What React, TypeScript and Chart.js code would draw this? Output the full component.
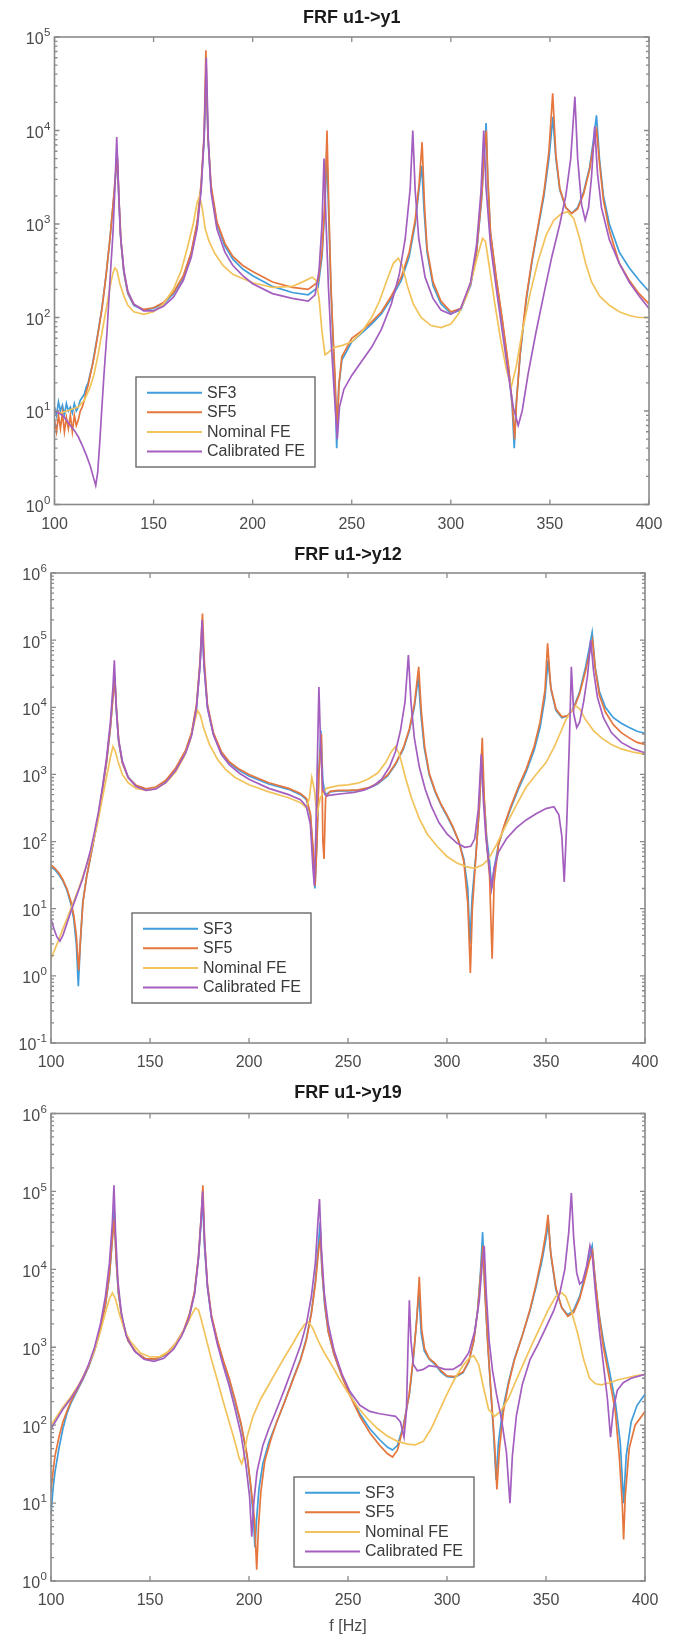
import React, { useEffect, useRef } from "react";
import { Chart, registerables } from "chart.js";
Chart.register(...registerables);

type Pt = [number, number];

const seriesNames = ["SF3", "SF5", "Nominal FE", "Calibrated FE"];
const seriesColors = ["#3f9ddb", "#e5763d", "#f2c35b", "#a35ec0"];
const xTickValues = [100, 150, 200, 250, 300, 350, 400];
const titles = ["FRF u1->y1", "FRF u1->y12", "FRF u1->y19"];
const yRanges: [number, number][] = [[1, 1e5], [0.1, 1e6], [1, 1e6]];
const xAxisTitle = "f [Hz]";

// ---------- Panel 1: FRF u1->y1 ----------
const p1SF3: Pt[] = [[100,11],[101,9],[102,12.5],[103,10],[104,11.5],[105,9],[106,12],[107,10],[108,11],[109,9.5],[110,12],[111,10],[112,11],[113,13],[114,14],[115,15],[116,18],[117,20],[118,25],[119,30],[120,40],[122,70],[124,130],[126,280],[128,700],[130,2000],[131,3600],[131.8,4500],[132.5,1800],[133.5,650],[135,300],[137,180],[140,135],[145,120],[150,125],[155,140],[160,180],[165,270],[169,480],[172,1000],[174,2500],[175.5,8000],[176.5,40000],[177.5,8000],[179,2400],[182,1000],[186,580],[190,420],[195,330],[200,280],[210,215],[220,185],[228,175],[233,210],[235,450],[236.5,1600],[237.4,6000],[238.4,1200],[239.5,200],[240.5,60],[241.5,20],[242.4,4],[243.4,18],[245,35],[250,55],[255,68],[260,85],[265,110],[270,160],[275,250],[279,450],[282,1000],[284,2400],[285.3,4200],[286.5,1400],[288,500],[291,220],[295,140],[300,110],[305,120],[310,220],[313,500],[315.5,1800],[317,6000],[317.8,12000],[318.6,3000],[320,800],[323,250],[326,90],[329,30],[331,11],[332,4],[333,12],[335,40],[338,150],[341,400],[344,900],[347,2000],[349.5,5000],[351.5,14000],[353,5000],[355,2300],[358,1500],[361,1300],[364,1500],[367,2200],[370,4000],[372,8000],[373.5,14500],[375,5000],[377,2000],[380,1000],[385,500],[390,340],[395,250],[400,190]];
const p1SF5: Pt[] = [[100,8],[101,6],[102,9],[103,6.5],[104,9.5],[105,6],[106,8.5],[107,6.5],[108,9],[109,6],[110,9],[111,7],[112,8],[113,10],[114,11],[115,13],[116,16],[117,19],[118,24],[119,30],[120,38],[122,68],[124,125],[126,280],[128,700],[130,2100],[131,3800],[131.8,5000],[132.5,1900],[133.5,680],[135,310],[137,185],[140,138],[145,122],[150,127],[155,145],[160,185],[165,280],[169,500],[172,1050],[174,2700],[175.5,9000],[176.4,72000],[177.4,9000],[179,2600],[182,1050],[186,620],[190,450],[195,360],[200,310],[210,240],[220,210],[228,200],[233,240],[235,500],[236.5,1800],[237.5,10000],[238.5,1300],[239.5,220],[240.5,70],[241.5,25],[242.6,6],[243.6,20],[245,38],[250,60],[255,72],[260,90],[265,115],[270,170],[275,270],[279,500],[282,1100],[284,2700],[285.5,7500],[286.7,1600],[288,550],[291,240],[295,150],[300,115],[305,125],[310,230],[313,520],[315.5,1900],[317,6500],[317.9,10000],[318.7,3000],[320,820],[323,260],[326,95],[329,32],[331,12],[332.2,5],[333.2,13],[335,42],[338,160],[341,420],[344,950],[347,2200],[349.5,6000],[351.4,25000],[353,5500],[355,2400],[358,1500],[361,1300],[364,1450],[367,2100],[370,3800],[372,7000],[373.6,10000],[375,4500],[377,1800],[380,850],[385,380],[390,250],[395,180],[400,140]];
const p1Nom: Pt[] = [[100,10],[103,9.5],[106,10],[109,10.5],[112,11],[115,13],[118,18],[120,25],[122,40],[124,70],[126,120],[128,210],[129.5,300],[130.5,340],[131.5,320],[133,230],[135,170],[137,135],[140,115],[145,108],[150,115],[155,140],[160,200],[164,320],[167,550],[170,1000],[172,1700],[173.2,2000],[174.5,1500],[176,900],[178,650],[181,480],[185,360],[190,290],[200,235],[210,210],[220,215],[226,245],[230,270],[232,250],[233.5,160],[235,70],[236.5,40],[238,42],[241,48],[245,50],[250,55],[255,70],[260,100],[264,150],[268,260],[271,380],[273.5,430],[275.5,360],[278,220],[281,140],[285,100],[290,82],[295,78],[300,85],[304,110],[308,170],[311,280],[314,500],[316,700],[317.5,650],[319,400],[322,150],[325,60],[328,28],[330.5,18],[333,30],[336,70],[340,180],[344,400],[348,750],[352,1100],[356,1300],[359,1350],[362,1150],[365,700],[368,380],[371,240],[375,170],[380,135],[385,115],[390,105],[395,100],[400,100]];
const p1Cal: Pt[] = [[100,10],[102,9.5],[104,9],[106,8],[108,7],[110,6.2],[112,5.3],[114,4.3],[116,3.4],[118,2.6],[119.5,2],[120.8,1.6],[121.8,2.2],[122.8,4.5],[123.8,10],[125,25],[126.5,70],[128,250],[129.5,800],[130.5,2500],[131.4,8500],[132.2,2800],[133.2,800],[135,320],[137,190],[140,140],[145,118],[150,118],[155,132],[160,165],[165,250],[169,440],[172,900],[174,2300],[175.5,8500],[176.6,60000],[177.6,8000],[179,2200],[182,880],[186,500],[190,360],[195,280],[200,230],[210,180],[220,160],[228,150],[231.5,175],[233.5,320],[235,1000],[236,5000],[237,1100],[238.2,220],[239.5,60],[241,18],[242.7,5],[243.8,11],[246,17],[250,24],[255,34],[260,48],[265,75],[270,140],[274,290],[277,700],[279.5,2400],[280.8,10000],[282,2300],[283.8,700],[287,270],[291,160],[295,120],[300,108],[305,125],[310,240],[313,600],[315.2,2200],[316.6,10000],[317.8,2400],[320,600],[323,200],[326,70],[329,25],[331.5,11],[334,7],[336,10],[339,25],[343,70],[347,180],[351,450],[355,1000],[358,2000],[360.5,5000],[362.6,23000],[364,5000],[366,1600],[367.8,1100],[369.5,1500],[371,3200],[372.6,11000],[374,3500],[376,1500],[380,680],[385,380],[390,240],[395,170],[400,125]];

// ---------- Panel 2: FRF u1->y12 ----------
const p2SF3: Pt[] = [[100,42],[102,38],[104,32],[106,26],[108,19],[110,12],[111.5,7],[112.8,3],[113.8,0.7],[114.8,3],[116,12],[118,30],[120,60],[122,120],[124,250],[126,600],[128,1500],[130,5000],[131.3,15000],[132.2,30000],[133,9000],[134.2,3000],[136,1500],[139,900],[143,680],[148,600],[153,640],[158,800],[163,1200],[168,2200],[171,4000],[173.5,10000],[175.2,40000],[176.4,150000],[177.4,40000],[179,10000],[182,4000],[186,2100],[190,1500],[195,1150],[200,950],[210,720],[220,600],[226,500],[229,420],[231,250],[232.5,60],[233.3,20],[234.3,100],[235.2,1000],[236.3,4500],[237.3,800],[238.5,500],[241,550],[245,570],[250,570],[255,580],[260,620],[265,720],[270,950],[274,1400],[278,2400],[281,4500],[283.5,10000],[285.5,28000],[286.8,8000],[288.5,2500],[291,1000],[294,550],[297,350],[300,240],[303,160],[306,100],[308.5,55],[310.5,20],[311.6,3],[312.7,15],[314.5,60],[316.3,300],[317.6,2000],[318.6,500],[320,120],[321.5,50],[322.6,20],[323.8,40],[326,90],[329,170],[332,300],[336,600],[340,1100],[344,2300],[347,5000],[349.5,14000],[351,50000],[352.6,18000],[355,9000],[358,7000],[361,7500],[364,10000],[367,17000],[370,40000],[372,80000],[373.3,130000],[374.8,40000],[377,17000],[380,10000],[384,7000],[388,5800],[392,5000],[396,4400],[400,4100]];
const p2SF5: Pt[] = [[100,45],[102,40],[104,34],[106,27],[108,20],[110,13],[111.5,8],[112.8,4],[114,1.2],[115,4],[116.2,13],[118,30],[120,60],[122,120],[124,250],[126,600],[128,1500],[130,5000],[131.3,14000],[132.3,25000],[133.1,9000],[134.3,3000],[136,1500],[139,900],[143,690],[148,610],[153,650],[158,820],[163,1250],[168,2300],[171,4200],[173.5,11000],[175.3,50000],[176.5,250000],[177.5,45000],[179,11000],[182,4200],[186,2200],[190,1550],[195,1200],[200,1000],[210,750],[220,620],[226,520],[229,440],[231,260],[232.5,70],[233.4,22],[234.4,110],[235.3,1000],[236.6,4000],[237.3,100],[237.9,55],[238.7,450],[241,560],[245,580],[250,580],[255,590],[260,630],[265,740],[270,980],[274,1450],[278,2500],[281,4800],[283.5,11000],[285.7,40000],[287,9000],[288.7,2600],[291,1050],[294,570],[297,360],[300,250],[303,165],[306,100],[308.5,50],[310.5,12],[311.8,1.1],[312.8,10],[314.5,55],[316.3,320],[317.8,3500],[318.8,450],[320,100],[321.5,30],[322.8,1.8],[323.8,25],[326,90],[329,180],[332,320],[336,650],[340,1200],[344,2600],[347,6000],[349.5,18000],[350.8,90000],[352.4,20000],[355,9500],[358,7200],[361,7500],[364,9500],[367,16000],[370,35000],[372,65000],[373.5,100000],[375,35000],[377,15000],[380,8500],[384,5500],[388,4200],[392,3500],[396,3000],[400,2800]];
const p2Nom: Pt[] = [[100,1.8],[102,2.5],[104,3.5],[106,5],[108,7],[110,10],[112,14],[114,20],[116,30],[118,45],[120,70],[122,120],[124,220],[126,450],[128,900],[130,1800],[131.3,2600],[132.5,2200],[134,1500],[136,1000],[139,750],[143,620],[148,580],[153,620],[158,750],[163,1100],[167,1800],[170,3000],[172.5,6000],[174,9000],[175.5,7500],[177,5000],[180,2800],[184,1700],[188,1200],[193,900],[200,700],[210,550],[220,450],[226,380],[229,320],[230.5,450],[231.7,900],[233,600],[234.3,250],[236,450],[239,620],[245,680],[250,700],[255,740],[260,850],[265,1050],[269,1500],[272,2200],[274,2600],[276,2000],[279,900],[282,450],[286,220],[290,130],[295,85],[300,60],[305,48],[310,42],[314,40],[318,45],[321,55],[325,90],[330,180],[335,350],[340,650],[345,1000],[350,1500],[354,2500],[357,4000],[360,6500],[363,9000],[365,10500],[367,9500],[370,6500],[374,4500],[378,3500],[383,2800],[388,2400],[394,2150],[400,2000]];
const p2Cal: Pt[] = [[100,7],[101.5,5],[103,3.8],[104.5,3.3],[106,4],[108,6],[110,9],[112,13],[114,19],[116,28],[118,45],[120,75],[122,140],[124,280],[126,650],[128,1700],[130,6000],[131.3,20000],[132,50000],[132.8,12000],[134,3500],[136,1600],[139,900],[143,660],[148,580],[153,610],[158,760],[163,1150],[168,2100],[171,3800],[173.5,10000],[175.2,40000],[176.3,200000],[177.3,40000],[179,10000],[182,3900],[186,2000],[190,1400],[195,1050],[200,850],[210,620],[220,500],[226,420],[229,330],[231,180],[232.3,40],[233,22],[233.8,150],[234.6,2000],[235.3,20000],[236.2,2500],[237.3,600],[239,480],[243,500],[248,520],[253,540],[258,580],[263,680],[267,850],[271,1300],[274,2200],[276.5,4500],[278.8,12000],[280.5,60000],[281.8,12000],[283.5,3500],[286,1300],[289,600],[292,340],[296,190],[300,130],[305,95],[309,82],[312,85],[314,110],[315.8,300],[317.3,2000],[318.4,400],[319.6,120],[321,50],[322.5,20],[323.8,40],[326,70],[330,110],[335,160],[340,210],[345,260],[350,310],[354,330],[356.5,250],[358,120],[359.2,25],[360.5,200],[361.8,3000],[362.8,40000],[364,8000],[365.5,5000],[367,6000],[369,12000],[371,30000],[372.6,100000],[374,35000],[376,14000],[379,7000],[383,4200],[388,3000],[394,2400],[400,2100]];

// ---------- Panel 3: FRF u1->y19 ----------
const p3SF3: Pt[] = [[100,7],[101,15],[102,25],[104,50],[106,90],[108,140],[110,190],[113,270],[116,380],[119,560],[122,900],[125,1700],[127.5,3500],[129.5,8000],[131,25000],[131.9,60000],[132.8,15000],[134,5000],[136,2200],[139,1200],[143,850],[148,700],[153,700],[158,800],[163,1100],[167,1600],[170,2600],[172.5,5000],[174.5,14000],[175.8,40000],[176.6,80000],[177.5,20000],[179,6000],[181,2500],[184,1200],[187,650],[190,380],[193,200],[196,100],[199,40],[201,15],[202.3,6],[203,2.7],[203.8,6],[205,15],[207,32],[210,60],[214,110],[218,200],[222,380],[226,700],[229,1300],[231.5,2800],[233.5,7000],[235,20000],[235.9,40000],[236.8,10000],[238.2,3500],[240,1600],[243,800],[247,420],[251,250],[256,140],[261,90],[266,65],[270,52],[272.5,48],[275,55],[278,100],[281,250],[283,700],[284.5,2000],[285.8,5000],[287,1500],[288.5,900],[291,700],[294,600],[297,480],[300,420],[304,410],[308,470],[311,650],[313.5,1200],[315.5,3000],[317,10000],[318,30000],[319,6000],[320.5,1200],[322,300],[323.5,80],[324.8,20],[326,60],[328,150],[331,350],[334,700],[338,1400],[342,3000],[345,6000],[348,13000],[350,25000],[351.2,40000],[352.5,15000],[355,5500],[358,3200],[361,2600],[364,3000],[367,4500],[370,9000],[372,15000],[373.3,20000],[374.5,9000],[376.5,3000],[379,1200],[382,500],[385,200],[387.5,60],[389.2,10],[390.5,40],[393,110],[396,180],[400,250]];
const p3SF5: Pt[] = [[100,14],[101,25],[102,40],[104,70],[106,110],[108,150],[110,200],[113,280],[116,390],[119,570],[122,920],[125,1750],[127.5,3600],[129.5,8500],[131,25000],[132,45000],[132.9,14000],[134.1,5000],[136,2200],[139,1200],[143,860],[148,710],[153,710],[158,810],[163,1120],[167,1650],[170,2700],[172.5,5200],[174.5,15000],[175.9,50000],[176.7,120000],[177.6,22000],[179,6500],[181,2600],[184,1250],[187,680],[190,400],[193,210],[196,105],[199,42],[201,16],[202.8,6],[203.9,1.4],[204.8,5],[206,14],[208,35],[211,65],[214,110],[218,200],[222,370],[226,680],[229,1250],[231.5,2700],[233.5,6500],[235.2,18000],[236.1,25000],[237,9000],[238.4,3400],[240,1600],[243,800],[247,420],[251,240],[256,130],[261,80],[266,55],[270,43],[272.5,39],[275,48],[278,95],[281,260],[283,750],[284.7,2200],[286,8000],[287.2,1700],[288.7,950],[291,720],[294,620],[297,500],[300,430],[304,420],[308,480],[311,660],[313.5,1200],[315.5,3000],[317.2,10000],[318.2,20000],[319.2,5000],[320.7,1000],[322.3,250],[324,60],[325.2,15],[326.5,50],[328.5,150],[331,330],[334,680],[338,1400],[342,3100],[345,6500],[348,15000],[350,30000],[351,50000],[352.3,17000],[355,5800],[358,3200],[361,2500],[364,2800],[367,4200],[370,8000],[372,13000],[373.5,17000],[374.8,7500],[376.8,2600],[379,1000],[382,400],[385,150],[387,40],[388.5,10],[389.2,3.4],[390,12],[392,50],[395,100],[400,150]];
const p3Nom: Pt[] = [[100,100],[103,130],[106,170],[110,230],[114,330],[118,520],[122,900],[125,1600],[127.5,2800],[129.5,4200],[131,5000],[132.5,4200],[134.5,2700],[137,1700],[140,1200],[145,850],[150,750],[155,760],[160,900],[164,1200],[168,1800],[171,2600],[173,3200],[174.5,3000],[176,2200],[178,1400],[181,700],[184,380],[187,200],[190,110],[193,60],[195,38],[196.3,32],[197.5,40],[199,70],[202,130],[206,220],[210,330],[214,500],[218,750],[222,1100],[225,1500],[228,1950],[230,2100],[232,1800],[235,1200],[238,850],[242,580],[246,380],[250,260],[255,170],[260,120],[265,90],[270,72],[275,62],[280,57],[284,56],[288,62],[292,90],[296,150],[300,250],[304,400],[308,580],[311,720],[313.5,780],[316,600],[318.5,300],[321,160],[324,130],[327,150],[331,220],[335,380],[339,650],[343,1100],[347,1800],[351,3000],[355,4500],[357.8,5000],[360,4500],[363,2800],[366,1500],[369,700],[372,400],[375,340],[378,330],[382,350],[386,380],[390,400],[395,430],[400,450]];
const p3Cal: Pt[] = [[100,90],[103,120],[106,160],[110,220],[113,290],[116,400],[119,600],[122,1000],[125,2000],[127.5,4500],[129.5,12000],[131,40000],[131.8,120000],[132.6,30000],[133.8,7000],[135.5,2800],[138,1400],[142,900],[147,700],[152,660],[157,720],[162,950],[166,1400],[169.5,2300],[172.5,4800],[174.5,14000],[175.8,45000],[176.6,100000],[177.5,25000],[179,6000],[181,2400],[184,1100],[187,580],[190,320],[193,160],[196,75],[198.5,30],[200.3,12],[201.4,3.7],[202.4,10],[204,25],[207,55],[210,90],[214,160],[218,290],[222,550],[226,1050],[229,2000],[231.5,4500],[233.5,12000],[234.8,40000],[235.6,80000],[236.5,20000],[238,5000],[240,2000],[243,900],[247,450],[251,270],[256,180],[261,150],[266,140],[270,135],[274,130],[276.5,110],[278.3,70],[279.5,150],[280.3,1000],[281,4000],[281.8,1200],[283,600],[285,500],[288,520],[291,580],[295,560],[299,520],[303,520],[307,600],[311,850],[314,1600],[316.3,4000],[317.8,12000],[318.8,20000],[319.8,5000],[321.3,1200],[323,500],[325,250],[327.5,120],[330,45],[331.8,10],[333,40],[335,130],[338,330],[342,700],[346,1100],[350,1800],[354,3000],[357,5000],[359.5,10000],[361.5,30000],[362.8,95000],[364,25000],[365.5,9000],[367,6500],[368.5,7000],[370.5,11000],[372.2,20000],[373.5,14000],[375,5000],[377,1600],[379,600],[381,220],[382.6,70],[384,160],[386,280],[389,350],[393,400],[400,450]];

const panelSeries: Pt[][][] = [
  [p1SF3, p1SF5, p1Nom, p1Cal],
  [p2SF3, p2SF5, p2Nom, p2Cal],
  [p3SF3, p3SF5, p3Nom, p3Cal],
];

// layout (pixels)
const FONT = "'Liberation Sans', Arial, Helvetica, sans-serif";
const TICK_COLOR = "#4a4a4a";
const layouts = [
  { top: 0, height: 540, yWidth: 54.5, padRight: 28, tPadTop: 7.2, tPadBottom: 8.2, xHeight: 35.5, legend: { x: 136, y: 377, w: 179, h: 90 }, xTitle: false },
  { top: 540, height: 540, yWidth: 51, padRight: 32, tPadTop: 4.2, tPadBottom: 7.2, xHeight: 37, legend: { x: 132, y: 373, w: 179, h: 90 }, xTitle: false },
  { top: 1080, height: 559, yWidth: 51, padRight: 32, tPadTop: 2.2, tPadBottom: 9.7, xHeight: 58, legend: { x: 294, y: 397, w: 180, h: 90 }, xTitle: true },
];

function decadeExponent(v: number): number | null {
  const e = Math.log10(v);
  if (Math.abs(e - Math.round(e)) > 1e-6) return null;
  return Math.round(e);
}

const framePlugin = {
  id: "matlabFrame",
  afterDatasetsDraw(chart: any, _args: any, opts: any) {
    const { ctx, chartArea: a, scales } = chart;
    ctx.save();
    ctx.strokeStyle = "#8a8a8a";
    ctx.lineWidth = 1.6;
    ctx.strokeRect(a.left, a.top, a.right - a.left, a.bottom - a.top);
    ctx.lineWidth = 1.3;
    ctx.beginPath();
    for (const v of xTickValues) {
      const px = scales.x.getPixelForValue(v);
      ctx.moveTo(px, a.bottom); ctx.lineTo(px, a.bottom - 5);
      ctx.moveTo(px, a.top); ctx.lineTo(px, a.top + 5);
    }
    const decades: number[] = [];
    for (const t of scales.y.ticks) {
      const v = t.value;
      const m = v / Math.pow(10, Math.floor(Math.log10(v) + 1e-9));
      if (Math.abs(m - Math.round(m)) > 1e-6) continue;
      const ex = decadeExponent(v);
      const len = ex !== null ? 5 : 3;
      if (ex !== null) decades.push(v);
      const py = scales.y.getPixelForValue(v);
      ctx.moveTo(a.left, py); ctx.lineTo(a.left + len, py);
      ctx.moveTo(a.right, py); ctx.lineTo(a.right - len, py);
    }
    ctx.stroke();

    // y tick labels: 10 with raised exponent
    ctx.fillStyle = TICK_COLOR;
    ctx.textBaseline = "middle";
    ctx.textAlign = "left";
    for (const v of decades) {
      const ex = decadeExponent(v) as number;
      const py = scales.y.getPixelForValue(v);
      const expStr = String(ex);
      ctx.font = "11.5px " + FONT;
      const we = ctx.measureText(expStr).width;
      ctx.font = "16px " + FONT;
      const wb = ctx.measureText("10").width;
      const right = a.left - 4;
      ctx.fillText("10", right - we - wb - 0.5, py + 3);
      ctx.font = "11.5px " + FONT;
      ctx.fillText(expStr, right - we, py - 4);
    }

    const lg = opts.legend;
    if (lg) {
      ctx.fillStyle = "#ffffff";
      ctx.fillRect(lg.x, lg.y, lg.w, lg.h);
      ctx.strokeStyle = "#6a6a6a";
      ctx.lineWidth = 1.4;
      ctx.strokeRect(lg.x, lg.y, lg.w, lg.h);
      ctx.font = "16px " + FONT;
      ctx.textBaseline = "middle";
      ctx.textAlign = "left";
      seriesNames.forEach((name, i) => {
        const cy = lg.y + 15.7 + i * 19.6;
        ctx.strokeStyle = seriesColors[i];
        ctx.lineWidth = 2;
        ctx.beginPath();
        ctx.moveTo(lg.x + 11, cy); ctx.lineTo(lg.x + 66, cy);
        ctx.stroke();
        ctx.fillStyle = "#3a3a3a";
        ctx.fillText(name, lg.x + 71, cy + 0.5);
      });
    }
    ctx.restore();
  },
};

function Panel({ idx }: { idx: number }) {
  const ref = useRef<HTMLCanvasElement | null>(null);
  const L = layouts[idx];
  useEffect(() => {
    if (!ref.current) return;
    const datasets = panelSeries[idx].map((pts, i) => ({
      label: seriesNames[i],
      data: pts.map(([x, y]) => ({ x, y })),
      borderColor: seriesColors[i],
      backgroundColor: seriesColors[i],
      borderWidth: 1.7,
      pointRadius: 0,
      pointHoverRadius: 0,
      fill: false,
      tension: 0,
      order: 4 - i,
    }));
    const chart = new Chart(ref.current, {
      type: "line",
      data: { datasets },
      options: {
        animation: false,
        responsive: false,
        maintainAspectRatio: false,
        events: [],
        layout: { padding: { left: 0, top: 0, right: L.padRight, bottom: 0 } },
        plugins: {
          legend: { display: false },
          tooltip: { enabled: false },
          title: {
            display: true,
            text: titles[idx],
            fullSize: false,
            color: "#1a1a1a",
            font: { family: FONT, size: 18, weight: "bold", lineHeight: 1.2 },
            padding: { top: L.tPadTop, bottom: L.tPadBottom },
          },
          matlabFrame: { legend: L.legend },
        } as any,
        scales: {
          x: {
            type: "linear",
            position: "bottom",
            min: 100,
            max: 400,
            grid: { display: false, drawTicks: false },
            border: { display: false },
            ticks: {
              stepSize: 50,
              padding: 10,
              color: TICK_COLOR,
              font: { family: FONT, size: 16 },
              maxRotation: 0,
              autoSkip: false,
            },
            title: {
              display: L.xTitle,
              text: xAxisTitle,
              color: TICK_COLOR,
              font: { family: FONT, size: 16, lineHeight: 1.2 },
              padding: { top: 0, bottom: 2.4 },
            },
            afterFit: (s: any) => { s.height = L.xHeight; },
          },
          y: {
            type: "logarithmic",
            min: yRanges[idx][0],
            max: yRanges[idx][1],
            grid: { display: false, drawTicks: false },
            border: { display: false },
            ticks: { display: false, autoSkip: false },
            afterFit: (s: any) => { s.width = L.yWidth; },
          },
        },
      } as any,
      plugins: [framePlugin as any],
    });
    return () => chart.destroy();
  }, [idx]);
  return (
    <canvas
      ref={ref}
      width={677}
      height={L.height}
      style={{ position: "absolute", left: 0, top: L.top, width: 677, height: L.height }}
    />
  );
}

export default function App() {
  return (
    <div style={{ position: "absolute", left: 0, top: 0, width: 677, height: 1639, background: "#ffffff", overflow: "hidden" }}>
      <Panel idx={0} />
      <Panel idx={1} />
      <Panel idx={2} />
    </div>
  );
}
